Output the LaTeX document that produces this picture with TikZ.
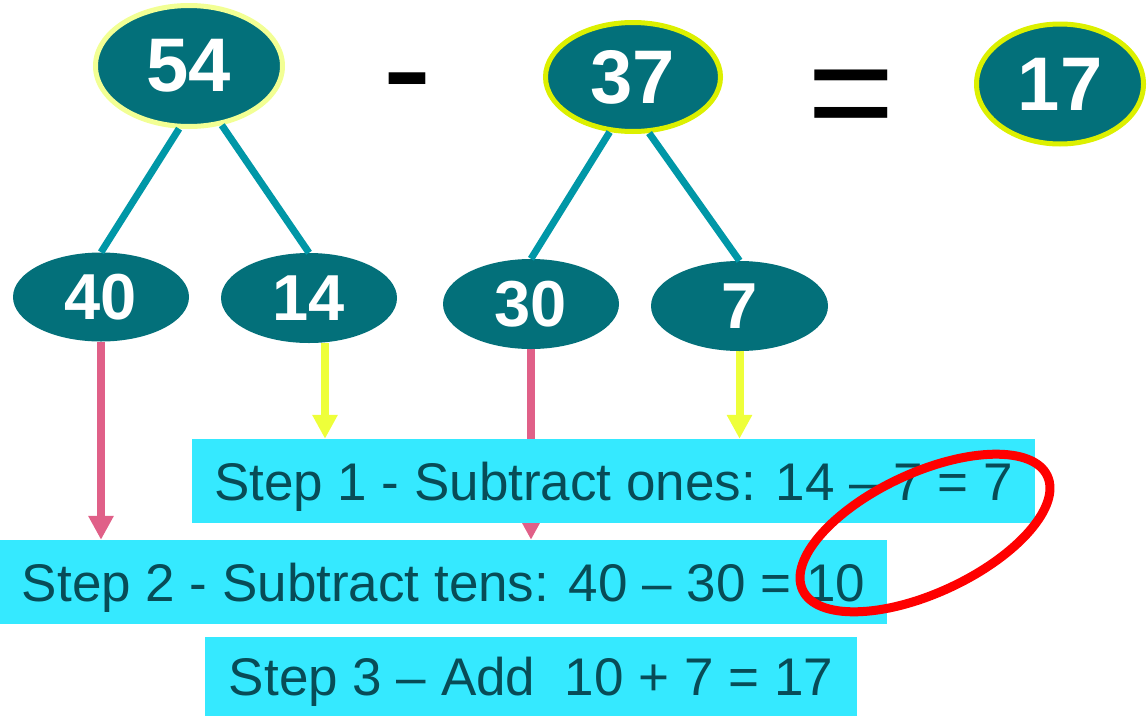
\documentclass[tikz,border=0pt]{standalone}
\usepackage{fontspec}
\setmainfont{Liberation Sans}
\usetikzlibrary{shapes.geometric,arrows.meta}
\pgfdeclarelayer{bg}
\pgfsetlayers{bg,main}
\definecolor{tealfill}{RGB}{3,112,122}
\definecolor{paleyellow}{RGB}{242,255,148}
\definecolor{limeborder}{RGB}{220,240,0}
\definecolor{linkteal}{RGB}{0,151,167}
\definecolor{pinkarrow}{RGB}{224,96,136}
\definecolor{yellowarrow}{RGB}{238,255,58}
\definecolor{boxcyan}{RGB}{53,233,255}
\definecolor{textdark}{RGB}{8,76,87}
\definecolor{ringred}{RGB}{255,0,0}
\tikzset{
  numnode/.style={ellipse, fill=tealfill, inner sep=0pt, text=white},
  bignum/.style={numnode, line width=5pt, font=\bfseries\fontsize{76}{80}\selectfont},
  smallnum/.style={numnode, font=\bfseries\fontsize{65}{70}\selectfont},
  link/.style={draw=linkteal, line width=7pt},
  pinkline/.style={draw=pinkarrow, line width=8pt, -{Triangle[width=24pt,length=24pt]}},
  yellowline/.style={draw=yellowarrow, line width=8pt, -{Triangle[width=24pt,length=24pt]}},
  stepbox/.style={rectangle, fill=boxcyan, text=textdark, inner sep=0pt,
    font=\fontsize{53}{60}\selectfont, text height=38pt, text depth=0pt},
  opsign/.style={anchor=base west, inner sep=0pt, font=\fontsize{150}{150}\selectfont}
}
\begin{document}
\begin{tikzpicture}[x=1pt,y=-1pt]
\useasboundingbox (0,0) rectangle (1147,715);

% top row
\node[bignum, draw=paleyellow, minimum width=187pt, minimum height=121pt] (n54) at (189,66) {54};
\node[bignum, draw=limeborder, minimum width=175pt, minimum height=109pt] (n37) at (633,77) {37};
\node[bignum, draw=limeborder, minimum width=167pt, minimum height=120pt] (n17) at (1060,84) {17};
\node[opsign] (minus) at (382,118) {-};
\node[opsign] (eq) at (807,143) {=};

% second row
\node[smallnum, minimum width=176pt, minimum height=89pt] (n40) at (101,297) {40};
\node[smallnum, minimum width=176pt, minimum height=90pt] (n14) at (309,298) {14};
\node[smallnum, minimum width=176pt, minimum height=90pt] (n30) at (531,304) {30};
\node[smallnum, minimum width=177pt, minimum height=90pt] (n7) at (739.5,306) {7};

% connectors
\draw[link] (n54.261) -- (n40.north);
\draw[link] (n54.299) -- (n14.north);
\draw[link] (n37.247) -- (n30.north);
\draw[link] (n37.286) -- (n7.north);

% step boxes
\node[stepbox, minimum width=843pt, minimum height=84pt] (box1) at (613.5,481) {Step 1 - Subtract ones: 14 – 7 = 7};
\node[stepbox, minimum width=887pt, minimum height=84pt] (box2) at (443.5,582) {Step 2 - Subtract tens: 40 – 30 = 10};
\node[stepbox, minimum width=652pt, minimum height=79pt] (box3) at (531,676) {Step 3 – Add\ \ 10 + 7 = 17};

% arrows behind boxes
\coordinate (a14) at (325,0);
\begin{pgfonlayer}{bg}
\draw[pinkline] (n40.south) -- (n40.south |- box2.north);
\draw[pinkline] (n30.south) -- (n30.south |- box2.north);
\draw[yellowline] (n14.south -| a14) -- (box1.north -| a14);
\draw[yellowline] (n7.south) -- (n7.south |- box1.north);
\end{pgfonlayer}

% red ring
\node[draw=ringred, line width=9pt, ellipse, inner sep=0pt, minimum width=270pt, minimum height=120pt, rotate=25] (ring) at (925,533) {};
\end{tikzpicture}
\end{document}
